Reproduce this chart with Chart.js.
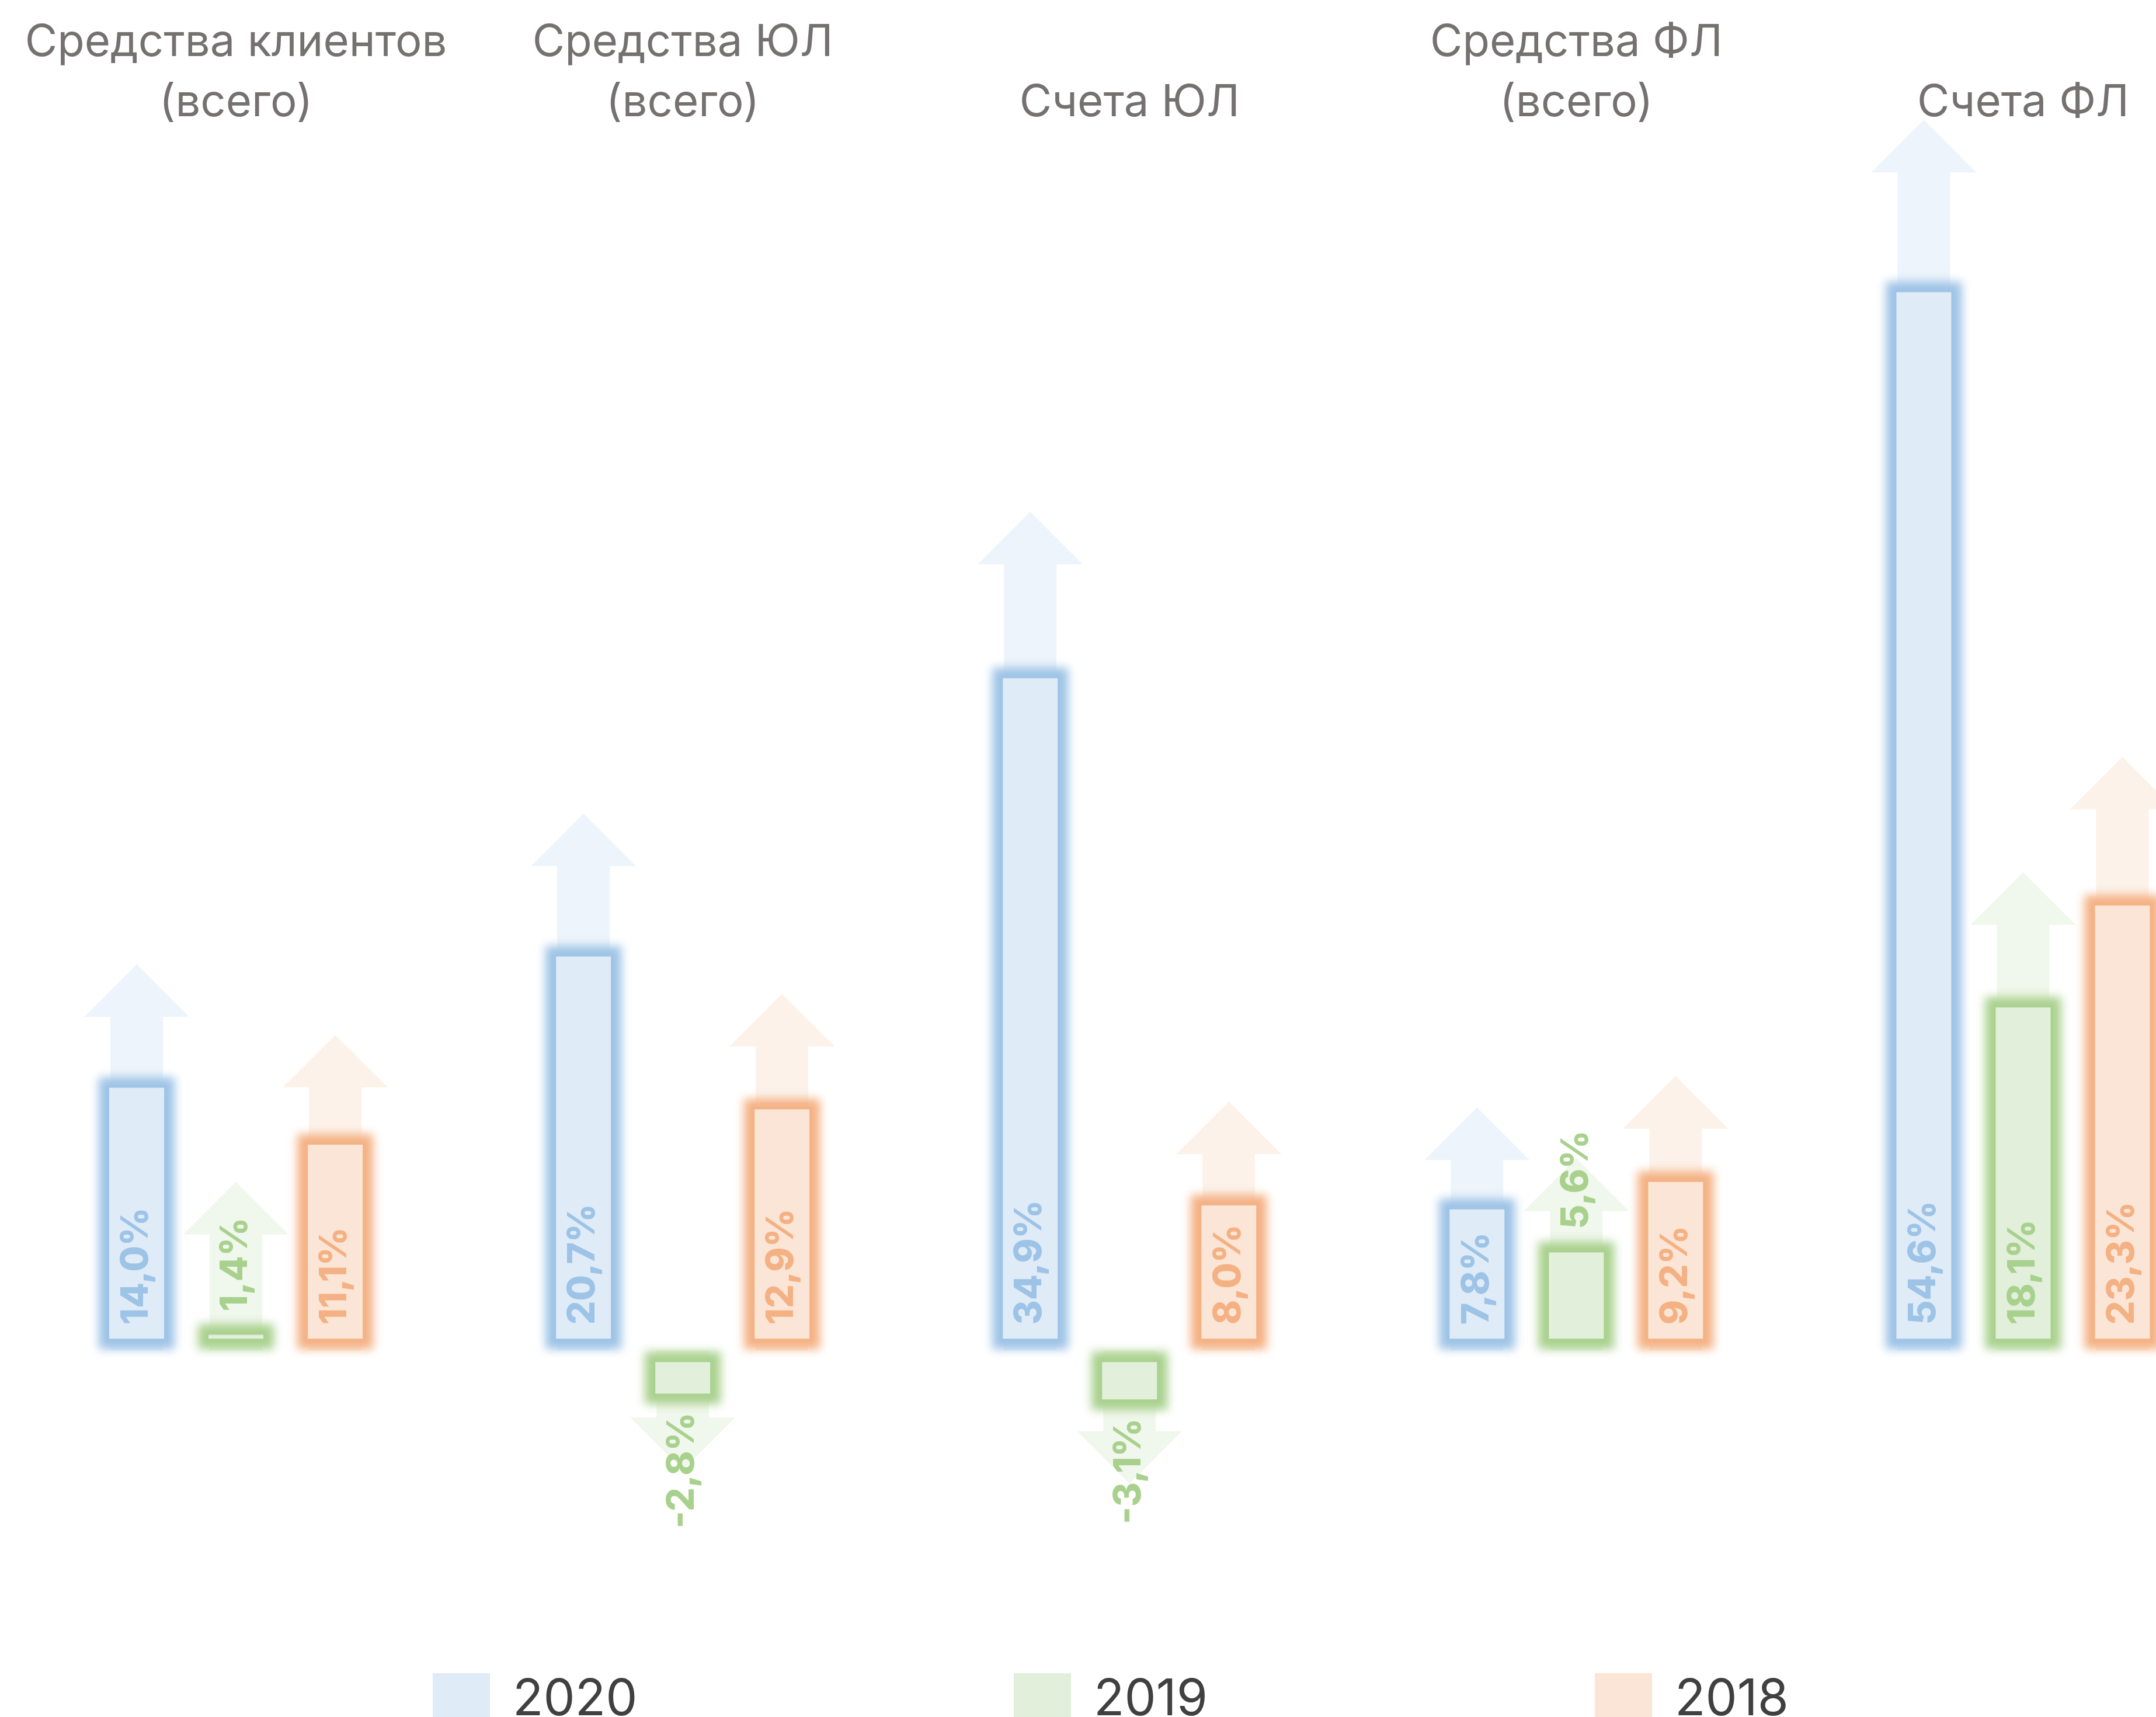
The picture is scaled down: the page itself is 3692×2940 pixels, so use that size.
<!DOCTYPE html>
<html lang="ru">
<head>
<meta charset="utf-8">
<title>Прирост средств клиентов</title>
<script src="https://cdn.jsdelivr.net/npm/chart.js@4.4.1/dist/chart.umd.min.js"></script>
<style>
  html, body { margin: 0; padding: 0; overflow: hidden; background: #fff; }
  #wrap { position: relative; width: 3860px; height: 2940px; }
  #legend { position: absolute; left: 741px; top: 2863px; display: flex; font-family: Inter, sans-serif; }
  .legend-item { display: flex; align-items: flex-start; width: 995px; }
  .legend-box { width: 98px; height: 98px; margin-top: 2px; margin-right: 39px; }
  .legend-text { font-size: 86px; line-height: 1; color: #404040; }
</style>
</head>
<body>
<div id="wrap">
  <canvas id="growthChart" width="3860" height="2940"></canvas>
  <div id="legend"></div>
</div>
<script>
// growth of client funds by year, %
const categories = [
  ["Средства клиентов", "(всего)"],
  ["Средства ЮЛ", "(всего)"],
  "Счета ЮЛ",
  ["Средства ФЛ", "(всего)"],
  "Счета ФЛ"
];
const years = ["2020", "2019", "2018"];
const growth2020 = [14.0, 20.7, 34.9, 7.8, 54.6];
const growth2019 = [1.4, -2.8, -3.1, 5.6, 18.1];
const growth2018 = [11.1, 12.9, 8.0, 9.2, 23.3];
// where the pale arrow behind each bar ends, in the same % units
const arrowTips2020 = [19.7, 27.4, 42.8, 12.4, 62.8];
const arrowTips2019 = [8.6, -6.1, -6.8, 9.8, 24.4];
const arrowTips2018 = [16.1, 18.2, 12.7, 14.0, 30.3];

const fills = ["#dfebf7", "#e2efda", "#fbe5d6"];
const edges = ["#9dc3e6", "#a9d18e", "#f4b183"];
const arrowFills = ["#edf4fb", "#f0f7ec", "#fcf2ea"];
const INSET = 20;

function innerRect(bar) {
  const p = bar.getProps(["x", "y", "base", "width"], true);
  const top = Math.min(p.y, p.base) + INSET;
  const bottom = Math.max(p.y, p.base) - INSET;
  return { x: p.x, left: p.x - p.width / 2 + INSET, width: p.width - 2 * INSET, top, bottom };
}

function formatPct(v) {
  return v.toFixed(1).replace(".", ",") + "%";
}

const decorPlugin = {
  id: "decor",
  beforeDatasetsDraw(chart) {
    const { ctx } = chart;
    const yScale = chart.scales.y;
    const zero = yScale.getPixelForValue(0);

    chart.data.datasets.forEach((ds, di) => {
      const meta = chart.getDatasetMeta(di);
      ctx.fillStyle = ds.arrowColor;
      meta.data.forEach((bar, i) => {
        const r = innerRect(bar);
        const s = r.width - 4;
        const tip = yScale.getPixelForValue(ds.arrowTips[i]);
        const headBase = ds.arrowTips[i] >= 0 ? tip + s : tip - s;
        ctx.beginPath();
        ctx.moveTo(r.x - s / 2, zero);
        ctx.lineTo(r.x - s / 2, headBase);
        ctx.lineTo(r.x - s, headBase);
        ctx.lineTo(r.x, tip);
        ctx.lineTo(r.x + s, headBase);
        ctx.lineTo(r.x + s / 2, headBase);
        ctx.lineTo(r.x + s / 2, zero);
        ctx.closePath();
        ctx.fill();
      });
    });

    // soft coloured frame round every bar
    chart.data.datasets.forEach((ds, di) => {
      const meta = chart.getDatasetMeta(di);
      meta.data.forEach(bar => {
        const r = innerRect(bar);
        ctx.save();
        ctx.filter = "blur(8px)";
        ctx.fillStyle = ds.glowColor;
        ctx.fillRect(r.left - 18, r.top - 18, r.width + 36, r.bottom - r.top + 36);
        ctx.restore();
      });
    });
  },
  afterDatasetsDraw(chart) {
    const { ctx } = chart;
    chart.data.datasets.forEach((ds, di) => {
      const meta = chart.getDatasetMeta(di);
      meta.data.forEach((bar, i) => {
        const v = ds.data[i];
        const r = innerRect(bar);
        const text = formatPct(v);
        ctx.save();
        ctx.font = "800 64px Inter";
        ctx.fillStyle = ds.glowColor;
        ctx.textBaseline = "middle";
        const w = ctx.measureText(text).width;
        if (v >= 0) {
          const fits = r.bottom - r.top >= w + 44;
          const start = fits ? r.bottom - 24 : r.top - 40;
          ctx.translate(r.x, start);
          ctx.rotate(-Math.PI / 2);
          ctx.textAlign = "left";
        } else {
          ctx.translate(r.x, r.bottom + 32);
          ctx.rotate(-Math.PI / 2);
          ctx.textAlign = "right";
        }
        ctx.fillText(text, 0, 0);
        ctx.restore();
      });
    });
  }
};

const series = [growth2020, growth2019, growth2018];
const tips = [arrowTips2020, arrowTips2019, arrowTips2018];

const chart = new Chart(document.getElementById("growthChart"), {
  type: "bar",
  data: {
    labels: categories,
    datasets: years.map((year, i) => ({
      label: year,
      data: series[i],
      arrowTips: tips[i],
      backgroundColor: fills[i],
      glowColor: edges[i],
      arrowColor: arrowFills[i],
      borderWidth: 0,
      inflateAmount: -INSET,
      categoryPercentage: 0.6667,
      barPercentage: 0.788
    }))
  },
  options: {
    responsive: false,
    animation: false,
    layout: { padding: { top: 18, left: 21.5, right: 13, bottom: 225 } },
    plugins: {
      legend: { display: false },
      tooltip: { enabled: false }
    },
    scales: {
      x: {
        position: "top",
        grid: { display: false },
        border: { display: false },
        ticks: {
          color: "#767171",
          font: { family: "Inter", size: 76, weight: "400", lineHeight: 1.36 },
          padding: 3,
          autoSkip: false,
          maxRotation: 0,
          minRotation: 0
        }
      },
      y: {
        display: false,
        min: -12,
        max: 61.8
      }
    }
  },
  plugins: [decorPlugin]
});

// legend below the chart, built from the chart's own legend items
const legendEl = document.getElementById("legend");
chart.options.plugins.legend.labels.generateLabels(chart).forEach(item => {
  const el = document.createElement("div");
  el.className = "legend-item";
  el.innerHTML = `<span class="legend-box" style="background:${item.fillStyle}"></span><span class="legend-text">${item.text}</span>`;
  legendEl.appendChild(el);
});
</script>
</body>
</html>
